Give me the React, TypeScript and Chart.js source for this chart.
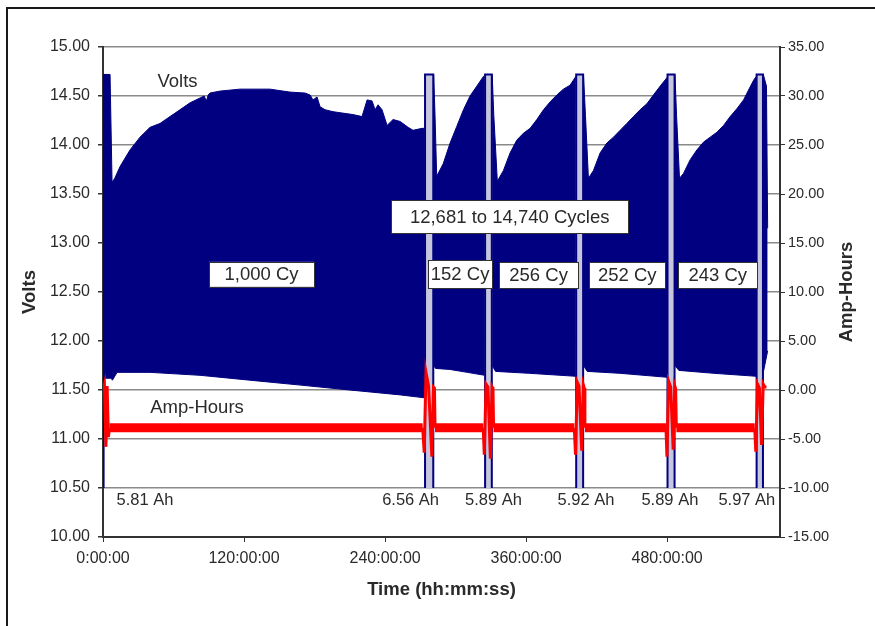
import React, { useEffect, useRef } from "react";
import { Chart, registerables } from "chart.js";

Chart.register(...registerables);

type Pt = [number, number];

// ---- Time axis (hours) ----
const timeTicksH = [0, 120, 240, 360, 480];
const timeMaxH = 576;

// ---- Voltage envelopes of each float-cycling block: [hours, volts] ----
const block1Upper: Pt[] = [
  [0.5, 14.72], [6, 14.72], [7.7, 13.62], [10, 13.66], [14.5, 13.78], [23, 13.95],
  [31.5, 14.08], [40, 14.18], [48.5, 14.22], [57, 14.29], [65.5, 14.36], [74, 14.43],
  [82.6, 14.48], [86, 14.5], [88, 14.45], [89.5, 14.51], [91, 14.53], [99.6, 14.55],
  [116.6, 14.57], [142, 14.57], [159, 14.54], [171.9, 14.53], [176.2, 14.51],
  [178.7, 14.46], [182.1, 14.49], [184.7, 14.39], [188.9, 14.36], [195.7, 14.34],
  [212.8, 14.31], [220.4, 14.29], [224.7, 14.46], [228.9, 14.45], [231.5, 14.36],
  [234, 14.41], [237.4, 14.36], [241.7, 14.2], [246.8, 14.26], [252.8, 14.24],
  [259.6, 14.18], [263.8, 14.15], [271.5, 14.17], [273.8, 14.17],
];
const block1Lower: Pt[] = [
  [0.5, 11.62], [7, 11.62], [8, 11.6], [12, 11.68], [23, 11.68], [40, 11.68],
  [82.6, 11.65], [125, 11.6], [168, 11.55], [210, 11.5], [253, 11.45], [273.8, 11.42],
];

const block2Upper: Pt[] = [
  [281.3, 14.72], [282.5, 14.3], [283.9, 13.68], [289.5, 13.81], [295.3, 14.02],
  [301, 14.19], [306.7, 14.36], [312.3, 14.5], [318, 14.6], [323.7, 14.7], [324.8, 14.71],
];
const block2Lower: Pt[] = [
  [281.3, 11.75], [283, 11.72], [295, 11.71], [310, 11.68], [324.8, 11.65],
];

const block3Upper: Pt[] = [
  [331.1, 14.72], [332.5, 14.3], [335.5, 13.63], [340.7, 13.74], [346.4, 13.92],
  [352.1, 14.05], [357.7, 14.12], [363.4, 14.17], [369.1, 14.26], [374.8, 14.36],
  [380.4, 14.44], [386.1, 14.51], [391.7, 14.57], [397.4, 14.61], [402.3, 14.7],
];
const block3Lower: Pt[] = [
  [331.1, 11.75], [334, 11.69], [363, 11.67], [402.3, 11.64],
];

const block4Upper: Pt[] = [
  [408.8, 14.72], [410.5, 14.3], [413, 13.66], [417.3, 13.74], [423, 13.92],
  [428.7, 14.02], [434.3, 14.08], [440, 14.15], [445.7, 14.22], [451.3, 14.29],
  [457, 14.36], [462.7, 14.42], [468.3, 14.51], [474, 14.6], [480, 14.69],
];
const block4Lower: Pt[] = [
  [408.8, 11.75], [412, 11.69], [440, 11.67], [480, 11.63],
];

const block5Upper: Pt[] = [
  [486.6, 14.72], [488, 14.3], [490.5, 13.66], [493.9, 13.71], [499.6, 13.85],
  [505.3, 13.95], [511, 14.03], [516.6, 14.08], [522.3, 14.13], [528, 14.2],
  [533.6, 14.29], [539.3, 14.37], [545, 14.46], [549.2, 14.56], [553.5, 14.66],
  [555.8, 14.7],
];
const block5Lower: Pt[] = [
  [486.6, 11.75], [490, 11.7], [520, 11.67], [555.8, 11.64],
];

const block6Upper: Pt[] = [[561.8, 14.72], [564.5, 14.6], [565.5, 13.15]];
const block6Lower: Pt[] = [[561.8, 11.68], [565.5, 11.9]];

const cyclingBlocks: [Pt[], Pt[]][] = [
  [block1Upper, block1Lower],
  [block2Upper, block2Lower],
  [block3Upper, block3Lower],
  [block4Upper, block4Lower],
  [block5Upper, block5Lower],
  [block6Upper, block6Lower],
];

// ---- Capacity tests: [start h, end h], discharged to cut-off, recharged at absorb voltage ----
const capacityTestWindowsH: Pt[] = [
  [0.5, 0.5], [274, 281], [325.1, 330.8], [402.6, 408.5], [480.3, 486.3], [556.1, 561.5],
];
const dischargeCutoffV = 10.5;
const absorbVoltageV = 14.72;

// ---- Amp-hours ----
const cyclingAh = -3.85;
const cyclingSpansH: Pt[] = [
  [5.5, 272], [282.5, 323.5], [332.3, 401], [410, 479], [487.8, 554.5],
];
const ahTest0: Pt[] = [[0.3, 0.0], [1.2, 0.5], [2.5, -5.8], [3.5, 0.4], [4.6, -4.8], [5.5, -3.85]];
const ahTest1: Pt[] = [[272, -3.85], [273.3, -6.4], [274.8, 1.8], [277, 0.4], [279.8, -6.8], [281.2, 0.3], [282, 0.2], [282.5, -3.85]];
const ahTest2: Pt[] = [[323.5, -3.85], [324.4, -6.6], [325.9, 0.6], [327.5, 0.3], [329.6, -7.0], [331, 0.3], [331.8, 0.1], [332.3, -3.85]];
const ahTest3: Pt[] = [[401, -3.85], [402, -6.6], [403.5, 0.8], [405, 0.4], [407.3, -6.2], [408.7, 0.5], [409.4, 0.2], [410, -3.85]];
const ahTest4: Pt[] = [[479, -3.85], [479.8, -6.8], [481.2, 0.9], [483, 0.3], [485.1, -6.1], [486.5, 0.4], [487.2, 0.1], [487.8, -3.85]];
const ahTest5: Pt[] = [[554.5, -3.85], [555.4, -6.3], [556.9, 0.6], [558.5, 0.2], [560.3, -5.6], [561.7, 0.6], [563, 0.3], [564.5, 0.3]];
const ahTests = [ahTest0, ahTest1, ahTest2, ahTest3, ahTest4, ahTest5];

// ---- Measured capacities and where they are printed (hours) ----
const capacitiesAh = [5.81, 6.56, 5.89, 5.92, 5.89, 5.97];
const capacityLabelH = [35.7, 261.7, 332.2, 410.9, 482.3, 547.8];
const capacityLabelV = 10.37;

// ---- Cycle-count callouts: text, centre (hours, volts), box size (px) ----
const cycleCallouts: { text: string; h: number; v: number; w: number; bh: number }[] = [
  { text: "1,000 Cy", h: 134.9, v: 12.68, w: 105, bh: 25 },
  { text: "12,681 to 14,740 Cycles", h: 346.0, v: 13.27, w: 237, bh: 33 },
  { text: "152 Cy", h: 303.8, v: 12.68, w: 64, bh: 28 },
  { text: "256 Cy", h: 370.6, v: 12.67, w: 79, bh: 26 },
  { text: "252 Cy", h: 446.0, v: 12.67, w: 76, bh: 26 },
  { text: "243 Cy", h: 523.0, v: 12.67, w: 79, bh: 26 },
];

const FONT = "'Liberation Sans', Arial, Helvetica, sans-serif";
const NAVY = "#000080";
const RED = "#ff0000";
const TEXT = "#2a2a2a";
const AXIS = "#333333";

const toXY = (a: Pt[]) => a.map(([x, y]) => ({ x, y }));

const framePlugin = {
  id: "frame",
  beforeDraw(chart: any) {
    const { ctx, width, height } = chart;
    ctx.save();
    ctx.fillStyle = "#ffffff";
    ctx.fillRect(0, 0, width, height);
    ctx.strokeStyle = "#1a1a1a";
    ctx.lineWidth = 2;
    ctx.strokeRect(7, 8, width + 10, height + 10);
    ctx.restore();
  },
};

const labelsPlugin = {
  id: "labels",
  afterDatasetsDraw(chart: any) {
    const { ctx, scales } = chart;
    const xs = scales.x;
    const ys = scales.y;
    ctx.save();
    ctx.fillStyle = TEXT;
    ctx.textAlign = "center";
    ctx.textBaseline = "middle";

    // series names
    ctx.font = `18.5px ${FONT}`;
    ctx.fillText("Volts", xs.getPixelForValue(63.4), ys.getPixelForValue(14.64));
    ctx.fillText("Amp-Hours", xs.getPixelForValue(80), ys.getPixelForValue(11.32));

    // capacity results
    ctx.font = `16.5px ${FONT}`;
    capacitiesAh.forEach((c, i) => {
      ctx.fillText(`${c.toFixed(2)} Ah`, xs.getPixelForValue(capacityLabelH[i]), ys.getPixelForValue(capacityLabelV));
    });

    // cycle-count callouts
    ctx.font = `18.5px ${FONT}`;
    cycleCallouts.forEach((c) => {
      const cx = xs.getPixelForValue(c.h);
      const cy = ys.getPixelForValue(c.v);
      ctx.fillStyle = "#ffffff";
      ctx.fillRect(cx - c.w / 2, cy - c.bh / 2, c.w, c.bh);
      ctx.strokeStyle = AXIS;
      ctx.lineWidth = 1;
      ctx.strokeRect(Math.round(cx - c.w / 2) + 0.5, Math.round(cy - c.bh / 2) + 0.5, c.w, c.bh);
      ctx.fillStyle = TEXT;
      ctx.fillText(c.text, cx, cy + 1);
    });

    // right axis title, reading bottom to top
    const r = scales.y1;
    ctx.font = `bold 18.5px ${FONT}`;
    ctx.fillStyle = TEXT;
    ctx.translate(847, (r.top + r.bottom) / 2);
    ctx.rotate(-Math.PI / 2);
    ctx.fillText("Amp-Hours", 0, 0);
    ctx.restore();
  },
};

export default function App() {
  const ref = useRef<HTMLCanvasElement>(null);

  useEffect(() => {
    document.body.style.margin = "0";
    const canvas = ref.current;
    if (!canvas) return;

    const datasets: any[] = [];
    const line = { pointRadius: 0, tension: 0, borderJoinStyle: "miter" };

    // float-cycling voltage bands
    cyclingBlocks.forEach(([up, lo]) => {
      const loIndex = datasets.length + 1;
      datasets.push({
        ...line, label: "Volts", data: toXY(up), yAxisID: "y",
        borderColor: NAVY, borderWidth: 1, backgroundColor: NAVY,
        fill: { target: loIndex }, order: 4,
      });
      datasets.push({
        ...line, label: "Volts", data: toXY(lo), yAxisID: "y",
        borderColor: NAVY, borderWidth: 1, fill: false, order: 4,
      });
    });

    // capacity tests
    capacityTestWindowsH.forEach(([a, b]) => {
      datasets.push({
        ...line, label: "Volts", yAxisID: "y",
        data: toXY([[a, dischargeCutoffV], [a, absorbVoltageV], [b, absorbVoltageV], [b, dischargeCutoffV]]),
        borderColor: NAVY, borderWidth: 2, backgroundColor: "#c6c6dd",
        fill: { value: dischargeCutoffV }, order: 3,
      });
    });

    // amp-hours while cycling
    cyclingSpansH.forEach(([a, b]) => {
      datasets.push({
        ...line, label: "Amp-Hours", yAxisID: "y1",
        data: toXY([[a, cyclingAh], [b, cyclingAh]]),
        borderColor: RED, borderWidth: 9, borderCapStyle: "butt", fill: false, order: 1,
      });
    });
    // amp-hours through each capacity test
    ahTests.forEach((t) => {
      datasets.push({
        ...line, label: "Amp-Hours", yAxisID: "y1", data: toXY(t),
        borderColor: RED, borderWidth: 3, fill: false, order: 0,
      });
    });

    const tickFont = { family: FONT, size: 16 };
    const chart = new Chart(canvas, {
      type: "line",
      data: { datasets },
      options: {
        animation: false,
        responsive: false,
        devicePixelRatio: 1,
        parsing: true,
        layout: { padding: { top: 47, left: 0, right: 0, bottom: 0 } },
        plugins: { legend: { display: false }, tooltip: { enabled: false } },
        scales: {
          x: {
            type: "linear",
            min: 0,
            max: timeMaxH,
            afterBuildTicks: (s: any) => {
              s.ticks = timeTicksH.map((v) => ({ value: v }));
            },
            afterFit: (s: any) => {
              s.height = 89;
            },
            grid: { display: true, drawOnChartArea: false, drawTicks: true, tickLength: 5, tickColor: AXIS },
            border: { display: true, color: AXIS, width: 2 },
            ticks: {
              font: tickFont, color: TEXT, padding: 7, maxRotation: 0, autoSkip: false,
              callback: (v: any) => `${v}:00:00`,
            },
            title: {
              display: true, text: "Time (hh:mm:ss)", color: TEXT,
              font: { family: FONT, size: 18.5, weight: "bold" }, padding: { top: 0, bottom: 25 },
            },
          },
          y: {
            type: "linear",
            position: "left",
            min: 10,
            max: 15,
            afterFit: (s: any) => {
              s.width = 103;
            },
            ticks: {
              stepSize: 0.5, font: tickFont, color: TEXT, padding: 8,
              callback: (v: any) => Number(v).toFixed(2),
            },
            grid: { color: "#8a8a8a", lineWidth: 1.5, tickColor: AXIS, tickLength: 5 },
            border: { display: true, color: AXIS, width: 2 },
            title: {
              display: true, text: "Volts", color: TEXT,
              font: { family: FONT, size: 18.5, weight: "bold" }, padding: { top: 19, bottom: 0 },
            },
          },
          y1: {
            type: "linear",
            position: "right",
            min: -15,
            max: 35,
            afterFit: (s: any) => {
              s.width = 95;
            },
            ticks: {
              stepSize: 5, font: { family: FONT, size: 14.5 }, color: TEXT, padding: 3,
              callback: (v: any) => Number(v).toFixed(2),
            },
            grid: { drawOnChartArea: false, tickColor: AXIS, tickLength: 5 },
            border: { display: true, color: AXIS, width: 2 },
          },
        },
      },
      plugins: [framePlugin, labelsPlugin],
    } as any);

    return () => chart.destroy();
  }, []);

  return (
    <div style={{ width: 875, height: 626, position: "relative" }}>
      <canvas ref={ref} width={875} height={626} style={{ display: "block" }} />
    </div>
  );
}
